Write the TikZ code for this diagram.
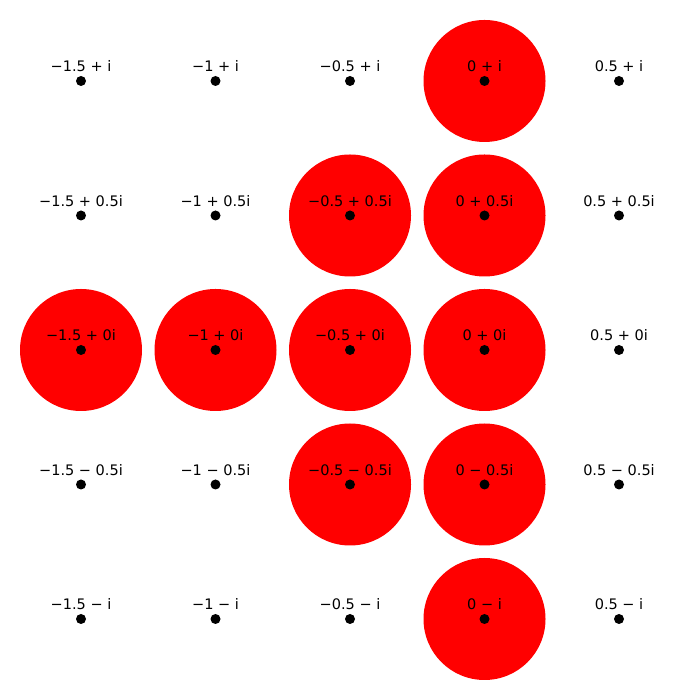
\documentclass[tikz,border=0pt]{standalone}
\usepackage{fontspec}
\setmainfont{DejaVu Sans}
\begin{document}
\begin{tikzpicture}[x=1pt,y=1pt,
  disc/.style={circle,fill=red,draw=none,minimum size=122pt,inner sep=0pt},
  dot/.style={circle,fill=black,minimum size=10pt,inner sep=0pt},
  lbl/.style={anchor=base,inner sep=0pt,font=\fontsize{14.5}{17}\selectfont}]
\useasboundingbox (0,0) rectangle (700,700);
% discs
\foreach \c/\r [count=\n] in {3/0,2/1,3/1,0/2,1/2,2/2,3/2,2/3,3/3,3/4}{
  \node[disc] (disc\n) at ({81+134.5*\c},{700-81-134.5*\r}) {};
}
% dots and labels
\foreach \re [count=\ci from 0] in {−1.5,−1,−0.5,0,0.5}{
  \foreach \im [count=\ri from 0] in {+ i,+ 0.5i,+ 0i,− 0.5i,− i}{
    \node[dot] (p\ci\ri) at ({81+134.5*\ci},{700-81-134.5*\ri}) {};
    \node[lbl] (l\ci\ri) at ({81+134.5*\ci},{700-81-134.5*\ri+9}) {\re{} \im};
  }
}
\end{tikzpicture}
\end{document}
